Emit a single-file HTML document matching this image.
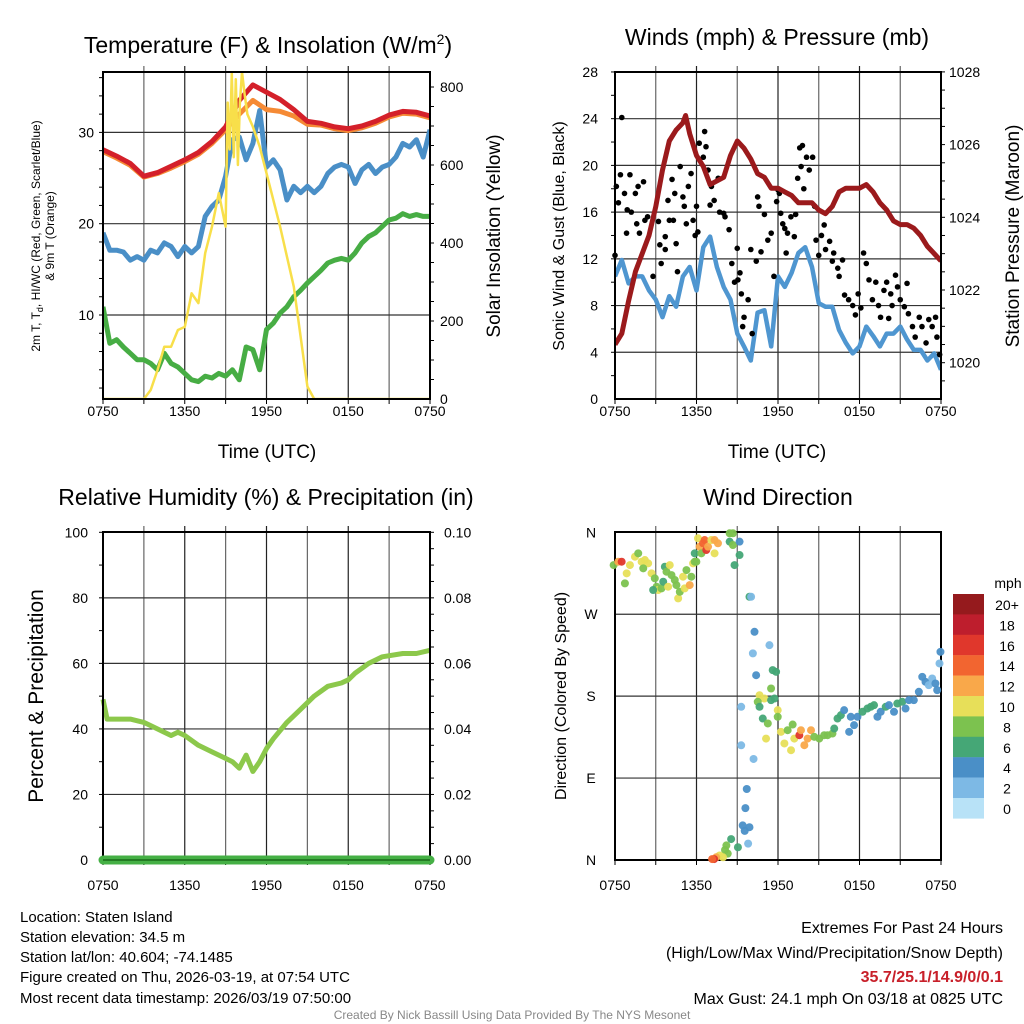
<!DOCTYPE html>
<html><head><meta charset="utf-8"><style>
html,body{margin:0;padding:0;background:#fff;}
svg{display:block;font-family:"Liberation Sans",sans-serif;}
</style></head><body>
<svg id="chart" width="1024" height="1024" viewBox="0 0 1024 1024" xmlns="http://www.w3.org/2000/svg">
<g id="layer"></g>
<g font-size="15" fill="#000">
<text x="20" y="922">Location: Staten Island</text>
<text x="20" y="942">Station elevation: 34.5 m</text>
<text x="20" y="962">Station lat/lon: 40.604; -74.1485</text>
<text x="20" y="982">Figure created on Thu, 2026-03-19, at 07:54 UTC</text>
<text x="20" y="1003">Most recent data timestamp: 2026/03/19 07:50:00</text>
</g>
<g font-size="16" text-anchor="end">
<text x="1003" y="933">Extremes For Past 24 Hours</text>
<text x="1003" y="958">(High/Low/Max Wind/Precipitation/Snow Depth)</text>
<text x="1003" y="982" fill="#c8202a" font-weight="bold">35.7/25.1/14.9/0/0.1</text>
<text x="1003" y="1004">Max Gust: 24.1 mph On 03/18 at 0825 UTC</text>
</g>
<text x="512" y="1019" font-size="12" fill="#888" text-anchor="middle">Created By Nick Bassill Using Data Provided By The NYS Mesonet</text>
</svg>
<script>
// ---------- DATA ----------
const xTickLabels = ["0750","1350","1950","0150","0750"];
const tempHours = [0,1,2,3,4,5,6,7,8,9,10,11,12,13,14,15,16,17,18,19,20,21,22,23,24];
const temp2m = [28.1,27.4,26.6,25.2,25.6,26.3,27.0,27.8,29.0,30.6,33.5,35.2,34.4,33.6,32.5,31.2,31.0,30.6,30.4,30.7,31.2,31.9,32.3,32.2,31.8];
const temp9m = [27.9,27.2,26.4,25.1,25.5,26.1,26.8,27.6,28.8,30.3,32.0,33.5,32.5,32.3,31.8,30.9,30.8,30.4,30.2,30.5,31.0,31.7,32.1,32.0,31.6];
const halfHours = [0,0.5,1,1.5,2,2.5,3,3.5,4,4.5,5,5.5,6,6.5,7,7.5,8,8.5,9,9.5,10,10.5,11,11.5,12,12.5,13,13.5,14,14.5,15,15.5,16,16.5,17,17.5,18,18.5,19,19.5,20,20.5,21,21.5,22,22.5,23,23.5,24];
const windChill = [19.0,17.1,17.1,16.9,16.0,16.4,16.0,17.1,16.8,17.9,17.5,16.4,17.5,16.8,17.5,20.8,21.9,22.6,25.2,29.2,29.5,27.0,28.8,32.4,26.2,27.0,25.9,22.6,24.1,23.4,24.1,23.4,24.1,25.5,26.2,26.5,26.2,24.4,25.9,26.5,25.5,26.2,26.5,27.3,28.8,28.4,29.2,27.3,30.3];
const dewPoint = [10.9,6.9,7.3,6.5,5.8,5.1,5.1,4.7,4.0,5.8,4.7,4.3,3.6,2.9,2.7,3.3,3.1,3.6,3.3,4.0,2.9,6.5,6.2,4.0,8.4,9.1,10.2,10.9,12.0,12.7,13.5,14.2,14.9,15.7,16.0,16.2,16.0,16.8,17.9,18.6,19.0,19.7,20.4,20.6,21.1,20.8,21.0,20.8,20.8];
const solarHours = [0,3,3.5,4,4.5,5,5.5,6,6.5,7,7.5,8,8.5,9,9.15,9.3,9.45,9.6,9.75,9.9,10.05,10.2,10.4,10.6,11,11.5,12,13,14,14.5,15,15.5,24];
const solarValues = [0,0,23,74,134,134,177,185,271,246,374,442,528,442,760,640,835,620,820,600,760,838,780,730,698,647,579,442,288,160,32,0,0];
const windSpeed = [10.5,11.9,9.9,10.5,10.5,9.3,8.5,7.0,8.8,7.9,10.5,11.3,9.3,13.0,13.9,11.3,9.6,8.5,5.6,4.5,3.3,7.4,7.6,4.5,10.5,9.6,10.8,12.5,13.0,11.3,8.2,7.9,7.9,5.9,4.8,3.9,4.5,6.2,5.4,4.5,5.6,5.6,6.2,5.1,4.2,4.2,3.3,3.9,2.5];
const pressHours = [0,0.5,1,1.5,2,2.5,3,3.5,4,4.5,5,5.2,5.5,6,6.5,7,7.5,8,8.5,9,9.5,10,10.5,11,11.5,12,12.5,13,13.5,14,14.5,15,15.5,16,16.5,17,17.5,18,18.5,19,19.5,20,20.5,21,21.5,22,22.5,23,23.5,24];
const pressure = [1020.5,1020.8,1021.7,1022.5,1023.0,1023.5,1024.3,1025.3,1026.1,1026.4,1026.6,1026.8,1026.3,1025.7,1025.4,1024.9,1025.0,1025.1,1025.7,1026.1,1025.9,1025.6,1025.2,1025.1,1024.8,1024.8,1024.7,1024.6,1024.4,1024.4,1024.4,1024.2,1024.1,1024.3,1024.7,1024.8,1024.8,1024.8,1024.9,1024.7,1024.4,1024.2,1023.9,1023.8,1023.8,1023.7,1023.5,1023.2,1023.0,1022.8];
const gustHours = [0,0.5,0.1,0.4,0.25,0.7,1.1,0.9,1.2,1.5,1.7,1.6,2.1,2.2,1.8,0.85,2.4,2.8,3.2,3.3,3.4,3.7,3.7,3.9,4.0,4.2,4.3,4.4,4.5,4.6,4.8,5.0,5.1,5.25,5.4,5.6,5.75,5.9,6.0,6.1,6.2,6.5,6.6,6.7,6.85,7.0,7.1,7.3,7.6,7.7,8.0,8.1,8.4,8.6,8.8,9.0,9.05,9.2,9.3,9.5,9.4,9.8,10.0,10.1,10.4,10.5,10.6,10.75,11.0,11.25,11.5,11.7,11.9,12.0,12.1,12.2,12.35,12.5,12.6,12.7,12.95,13.2,13.3,13.45,13.6,13.8,13.7,13.9,14.1,14.3,14.55,14.7,14.8,15.0,15.2,15.4,15.5,15.8,16.0,16.1,16.4,16.5,16.75,16.9,17.2,17.5,17.7,17.9,18.1,18.3,18.5,18.7,18.95,19.2,19.4,19.55,19.8,20.0,20.15,20.3,20.4,20.65,20.8,21.0,21.3,21.5,21.6,21.9,22.1,22.4,22.6,22.9,23.1,23.35,23.6,23.7,23.9];
const gustValues = [12.3,24.1,18.2,19.2,16.8,17.6,19.2,16.2,16.0,17.6,18.2,15.0,18.6,15.3,14.2,14.2,15.6,10.5,15.2,13.2,11.6,13.9,12.8,17.0,15.3,18.8,15.3,17.6,13.3,10.9,19.9,17.3,16.5,15.0,18.2,19.3,15.3,14.0,16.5,14.3,21.9,20.7,22.9,21.6,19.6,16.6,18.2,17.0,18.9,16.0,15.9,15.6,14.5,11.6,10.0,12.9,10.2,10.8,9.0,7.0,6.2,8.5,12.8,5.6,11.8,17.3,16.5,12.6,15.8,13.6,14.2,10.5,16.9,17.9,17.6,15.9,15.0,14.6,12.5,14.2,15.6,13.9,15.8,18.9,21.5,21.7,19.9,18.0,20.7,19.6,20.7,16.5,13.6,12.3,14.0,14.9,12.8,13.5,11.8,12.5,11.2,10.5,11.9,8.9,8.5,8.0,7.2,9.0,7.8,12.5,11.6,10.2,8.5,10.0,8.0,7.0,9.3,10.0,6.9,9.0,8.0,10.6,9.6,8.5,7.9,9.9,7.3,6.2,5.3,7.0,6.2,4.8,6.8,6.2,7.0,5.3,3.8];
const rhHours = [0,0.3,1,2,3,3.5,4.5,5,5.5,6,7,8,9,9.5,10,10.5,11,11.5,12,12.5,13.5,14.5,15.5,16.5,17.5,18,18.5,19.5,20.5,22,23,24];
const rhValues = [49,43,43,43,42,41,39,38,39,38,35,33,31,30,28,32,27,30,34,37,42,46,50,53,54,55,57,60,62,63,63,64];
const precipHours = [0,24];
const precipValues = [0,0];
// upper cluster (NW-N)
const dirHours = [-0.1,0.24,0.49,0.86,0.73,1.1,1.47,1.71,1.96,2.2,2.44,2.08,2.69,2.93,3.06,3.18,2.81,3.42,3.67,3.79,3.55,4.03,3.91,4.16,4.4,4.52,4.65,4.77,5.01,5.13,5.26,5.5,5.62,5.75,5.87,5.99,5.87,6.11,6.23,6.36,6.48,6.6,6.72,6.85,7.09,7.33,7.58,7.33,8.44,8.68,8.44,8.68,9.17,9.17,8.8,9.9,10.02];
const dirValues = [324,327.7,327.7,314.9,303.9,324,333.2,336.9,327.7,329.5,325.9,320.4,314.9,309.4,300.2,296.6,296.6,298.4,322.2,316.7,305.7,324,300.2,313,307.6,302,287.4,294.7,311.2,298.4,318.5,302,311.2,325.9,327.7,327.7,336.9,353.4,344.2,336.9,347.9,351.5,340.5,344.2,351.5,336.9,347.9,351.5,358.9,358.9,349.7,346,349.7,335,324,289.2,289.2];
const dirSpeeds = [8,12,15,10,8,10,10,8,10,9,10,8,10,7,8,10,6,8,6,8,6,10,10,8,8,7,10,8,10,10,8,12,8,10,8,7,6,10,12,8,14,14,16,12,10,10,12,12,8,8,6,8,4,6,6,6,2];
// middle/south arc
const midDirHours = [10.27,11.37,10.15,10.39,11.61,11.86,11.49,11.74,10.64,11.0,11.49,10.51,10.64,9.29,11.98,10.88,11.25,11.98,11.12,12.22,12.47,12.71,13.08,12.96,13.2,13.57,13.69,13.94,14.18,14.43,14.67,15.04,15.4,15.65,16.01,16.14,16.38,16.63,16.87,17.24,17.36,17.6,17.85,18.22,18.58,18.83,19.07,19.32,19.56,19.93,20.17,20.54,20.78,21.15,21.39,21.64,22.0,22.37,22.62,22.86,23.1,23.35,23.59,23.72,23.96,23.89];
const midDirValues = [250.7,236,227,203,208.6,206.7,188.4,177.4,181,177.4,175.6,173.8,168.3,168.3,164.6,155.4,150,157.3,133.4,140.8,128,142.6,148.8,120.6,133.4,137.1,142.6,126.1,133.4,142.6,135.3,133.4,137.1,137.1,138.9,144.4,155.4,159.1,164.6,140.8,157.3,148.1,157.3,162.8,166.4,168.3,170.1,157.3,162.8,168.3,170.1,162.8,171.9,173.8,166.4,175.6,175.6,184.8,201.2,195.7,192.1,199.4,193.9,186.6,228.7,215.9];
const midDirSpeeds = [4,2,2,4,6,6,8,6,10,10,6,8,6,2,10,6,8,8,10,10,10,8,8,10,10,16,12,12,12,12,8,8,8,8,8,6,6,6,4,4,4,4,4,6,6,6,6,4,4,6,4,4,6,6,4,4,4,4,4,4,2,2,4,4,4,2];
// north (bottom) segment
const lowDirHours = [9.29,10.2,9.7,9.6,9.4,9.55,9.9,9.8,9.05,8.55,8.2,8.1,8.3,7.95,7.7,7.45,7.3,7.15];
const lowDirValues = [126,111,78,57,38,32,36,18,14,23,16,11,7,3,5,3,1,1];
const lowDirSpeeds = [2,2,4,4,4,4,4,2,6,6,8,8,8,10,10,12,16,14];
const cbLabels = ["20+","18","16","14","12","10","8","6","4","2","0"];
const cbColors = ["#951a1d","#be1e2d","#e0372c","#f26530","#f9a84a","#e7df59","#7cc24f","#45a776","#4a8fc7","#7db9e5","#b8e2f7"];

// ---------- HELPERS ----------
const NS = "http://www.w3.org/2000/svg";
const layer = document.getElementById("layer");
function el(tag, attrs, parent) {
  const e = document.createElementNS(NS, tag);
  for (const k in attrs) e.setAttribute(k, attrs[k]);
  (parent || layer).appendChild(e);
  return e;
}
function txt(x, y, s, size, anchor, parent, rot) {
  const t = el("text", {x: x, y: y, "font-size": size, "text-anchor": anchor || "middle"}, parent);
  if (rot) t.setAttribute("transform", "rotate(" + rot + " " + x + " " + y + ")");
  t.textContent = s;
  return t;
}
function linePath(xs, ys, fx, fy) {
  let d = "";
  for (let i = 0; i < xs.length; i++) d += (i ? "L" : "M") + fx(xs[i]).toFixed(1) + " " + fy(ys[i]).toFixed(1);
  return d;
}
function panelFrame(name, L, R, T, B, gridYs, minorLeft, minorRight) {
  const g = el("g", {});
  
  
  const fx = h => L + (R - L) * h / 24;
  for (let h = 3; h < 24; h += 3) {
    const gl = el("line", {x1: fx(h), x2: fx(h), y1: T - 6, y2: B, stroke: h % 6 ? "#666" : "#222", "stroke-width": 1.2}, g);
    
    
  }
  gridYs.forEach(y => {
    const gl = el("line", {x1: L, x2: R, y1: y, y2: y, stroke: "#333", "stroke-width": 1.2}, g);
    
    
  });
  minorLeft.forEach(y => el("line", {x1: L - 4, x2: L, y1: y, y2: y, stroke: "#000", "stroke-width": 1}, g));
  minorRight.forEach(y => el("line", {x1: R, x2: R + 4, y1: y, y2: y, stroke: "#000", "stroke-width": 1}, g));
  for (let h = 0; h <= 24; h += 3) el("line", {x1: fx(h), x2: fx(h), y1: B, y2: B + 5, stroke: "#000", "stroke-width": 1}, g);
  return {g: g, fx: fx};
}
function border(L, R, T, B, parent) {
  const b = el("rect", {x: L, y: T, width: R - L, height: B - T, fill: "none", stroke: "#000", "stroke-width": 2}, parent);
  
  
}
function xLabels(fx, y, parent) {
  xTickLabels.forEach((s, i) => {
    const t = txt(fx(i * 6), y, s, 14, "middle", parent);
    
    
  });
}
function range(a, b, s) { const r = []; for (let v = a; v <= b + 1e-9; v += s) r.push(v); return r; }

// ---------- PANEL 1 ----------
(function () {
  const L = 103, R = 430, T = 72, B = 399;
  const yL = v => 315 - (v - 10) * 9.13;
  const yR = w => 399 - w * 0.39;
  const f = panelFrame("temperature-panel", L, R, T, B, [10, 20, 30].map(yL), range(2, 36, 2).map(yL), range(50, 800, 50).map(yR));
  const g = f.g, fx = f.fx;
  const tl = txt(268, 53, "Temperature (F) & Insolation (W/m", 23, "middle", g);
  const sup = el("tspan", {"font-size": 14, dy: -9}, tl); sup.textContent = "2";
  const cl = el("tspan", {dy: 9}, tl); cl.textContent = ")";
  
  
  [10, 20, 30].forEach(v => { const t = txt(L - 9, yL(v) + 5, String(v), 14, "end", g);   });
  [0, 200, 400, 600, 800].forEach(v => { const t = txt(R + 10, yR(v) + 5, String(v), 14, "start", g);   });
  xLabels(fx, 416, g);
  const xt = txt(267, 458, "Time (UTC)", 19, "middle", g);
   
  const y1 = txt(40, 236, "2m T, T", 12, "middle", g, -90);
  const sub = el("tspan", {"font-size": 9, dy: 3}, y1); sub.textContent = "d";
  const rest = el("tspan", {dy: -3}, y1); rest.textContent = ", HI/WC (Red, Green, Scarlet/Blue)";
   
  const y1b = txt(54, 236, "& 9m T (Orange)", 12, "middle", g, -90);
   
  const y2 = txt(500, 236, "Solar Insolation (Yellow)", 19, "middle", g, -90);
   
  const cp = el("clipPath", {id: "c1"}, g); el("rect", {x: L, y: T, width: R - L, height: B - T}, cp);
  const series = [
    [halfHours, windChill, "#4a8fc7", 5, "wind-chill-line"],
    [halfHours, dewPoint, "#47ad44", 5, "dew-point-line"],
    [tempHours, temp9m, "#f58a35", 5, "temp-9m-line"],
    [tempHours, temp2m, "#d4202a", 5, "temp-2m-line"]
  ];
  series.forEach(s => {
    const p = el("path", {d: linePath(s[0], s[1], fx, yL), fill: "none", stroke: s[2], "stroke-width": s[3], "stroke-linejoin": "round", "clip-path": "url(#c1)"}, g);
    
    
  });
  const sp = el("path", {d: linePath(solarHours, solarValues, fx, yR), fill: "none", stroke: "#f8df4a", "stroke-width": 2.5, "stroke-linejoin": "round", "clip-path": "url(#c1)"}, g);
  
  
  border(L, R, T, B, g);
})();

// ---------- PANEL 2 ----------
(function () {
  const L = 615, R = 941, T = 72, B = 399;
  const yL = v => 399 - v * 11.68;
  const yP = p => 362.7 - (p - 1020) * 36.35;
  const f = panelFrame("wind-pressure-panel", L, R, T, B, [4, 8, 12, 16, 20, 24].map(yL), range(2, 28, 2).map(yL), range(1019.5, 1028, 0.5).map(yP));
  const g = f.g, fx = f.fx;
  const tl = txt(777, 45, "Winds (mph) & Pressure (mb)", 23, "middle", g);
   
  range(0, 28, 4).forEach(v => { const t = txt(598, yL(v) + 5, String(v), 14, "end", g);   });
  [1020, 1022, 1024, 1026, 1028].forEach(v => { const t = txt(949, yP(v) + 5, String(v), 14, "start", g);   });
  xLabels(fx, 416, g);
  const xt = txt(777, 458, "Time (UTC)", 19, "middle", g);
   
  const yt = txt(564, 236, "Sonic Wind & Gust (Blue, Black)", 16, "middle", g, -90);
   
  const y2 = txt(1019, 236, "Station Pressure (Maroon)", 19, "middle", g, -90);
   
  const cp = el("clipPath", {id: "c2"}, g); el("rect", {x: L, y: T, width: R - L, height: B - T}, cp);
  const wp = el("path", {d: linePath(halfHours, windSpeed, fx, yL), fill: "none", stroke: "#4f96d0", "stroke-width": 4.5, "stroke-linejoin": "round", "clip-path": "url(#c2)"}, g);
   
  const gg = el("g", {}, g);
   
  gustHours.forEach((h, i) => {
    const c = el("circle", {cx: fx(h), cy: yL(gustValues[i]), r: 2.8, fill: "#000"}, gg);
    
    
  });
  const pp = el("path", {d: linePath(pressHours, pressure, fx, yP), fill: "none", stroke: "#9b1a1c", "stroke-width": 5, "stroke-linejoin": "round", "clip-path": "url(#c2)"}, g);
   
  border(L, R, T, B, g);
})();

// ---------- PANEL 3 ----------
(function () {
  const L = 103, R = 430, T = 532, B = 860;
  const yL = v => 860 - v * 3.277;
  const yR = p => 860 - p * 3277;
  const f = panelFrame("humidity-panel", L, R, T, B, [20, 40, 60, 80, 100].map(yL), range(10, 100, 10).map(yL), range(0.005, 0.1, 0.005).map(yR));
  const g = f.g, fx = f.fx;
  const tl = txt(266, 505, "Relative Humidity (%) & Precipitation (in)", 23, "middle", g);
   
  range(0, 100, 20).forEach(v => { const t = txt(88, yL(v) + 5, String(v), 14, "end", g);   });
  range(0, 0.1, 0.02).forEach(v => { const t = txt(444, yR(v) + 5, v.toFixed(2), 14, "start", g);   });
  xLabels(fx, 890, g);
  const yt = txt(43, 696, "Percent & Precipitation", 21, "middle", g, -90);
   
  const rp = el("path", {d: linePath(rhHours, rhValues, fx, yL), fill: "none", stroke: "#8cc84b", "stroke-width": 5, "stroke-linejoin": "round"}, g);
   
  border(L, R, T, B, g);
  const pr = el("path", {d: linePath(precipHours, precipValues, fx, yR), fill: "none", stroke: "#45b045", "stroke-width": 9, "stroke-linecap": "round"}, g);
   
  el("line", {x1: L, x2: R, y1: B, y2: B, stroke: "#1a6a1a", "stroke-width": 1.5}, g);
})();

// ---------- PANEL 4 ----------
(function () {
  const L = 615, R = 941, T = 532, B = 860;
  const yD = d => 860 - d * 0.9103;
  const f = panelFrame("wind-direction-panel", L, R, T, B, [90, 180, 270, 360].map(yD), [], []);
  const g = f.g, fx = f.fx;
  const tl = txt(778, 505, "Wind Direction", 23, "middle", g);
   
  ["N", "E", "S", "W", "N"].forEach((s, i) => { const t = txt(591, yD(i * 90) + 5, s, 14, "middle", g);   });
  xLabels(fx, 890, g);
  const yt = txt(566, 696, "Direction (Colored By Speed)", 16, "middle", g, -90);
   
  border(L, R, T, B, g);
  const color = s => cbColors[10 - Math.min(10, Math.round(s / 2))];
  const pg = el("g", {}, g);
   
  [[dirHours, dirValues, dirSpeeds], [midDirHours, midDirValues, midDirSpeeds], [lowDirHours, lowDirValues, lowDirSpeeds]].forEach(set => {
    set[0].forEach((h, i) => {
      const c = el("circle", {cx: fx(h), cy: yD(set[1][i]), r: 4, fill: color(set[2][i]), "fill-opacity": 0.95}, pg);
      
      
    });
  });
  const cb = el("g", {}, g);
   
  const mt = txt(1008, 588, "mph", 14, "middle", cb);
   
  cbLabels.forEach((s, i) => {
    const y = 594 + i * 20.4;
    const r = el("rect", {x: 953, y: y, width: 31, height: 20.6, fill: cbColors[i]}, cb);
    
    
    const t = txt(1007, y + 16, s, 14, "middle", cb);
    
    
  });
})();
</script>
</body></html>
